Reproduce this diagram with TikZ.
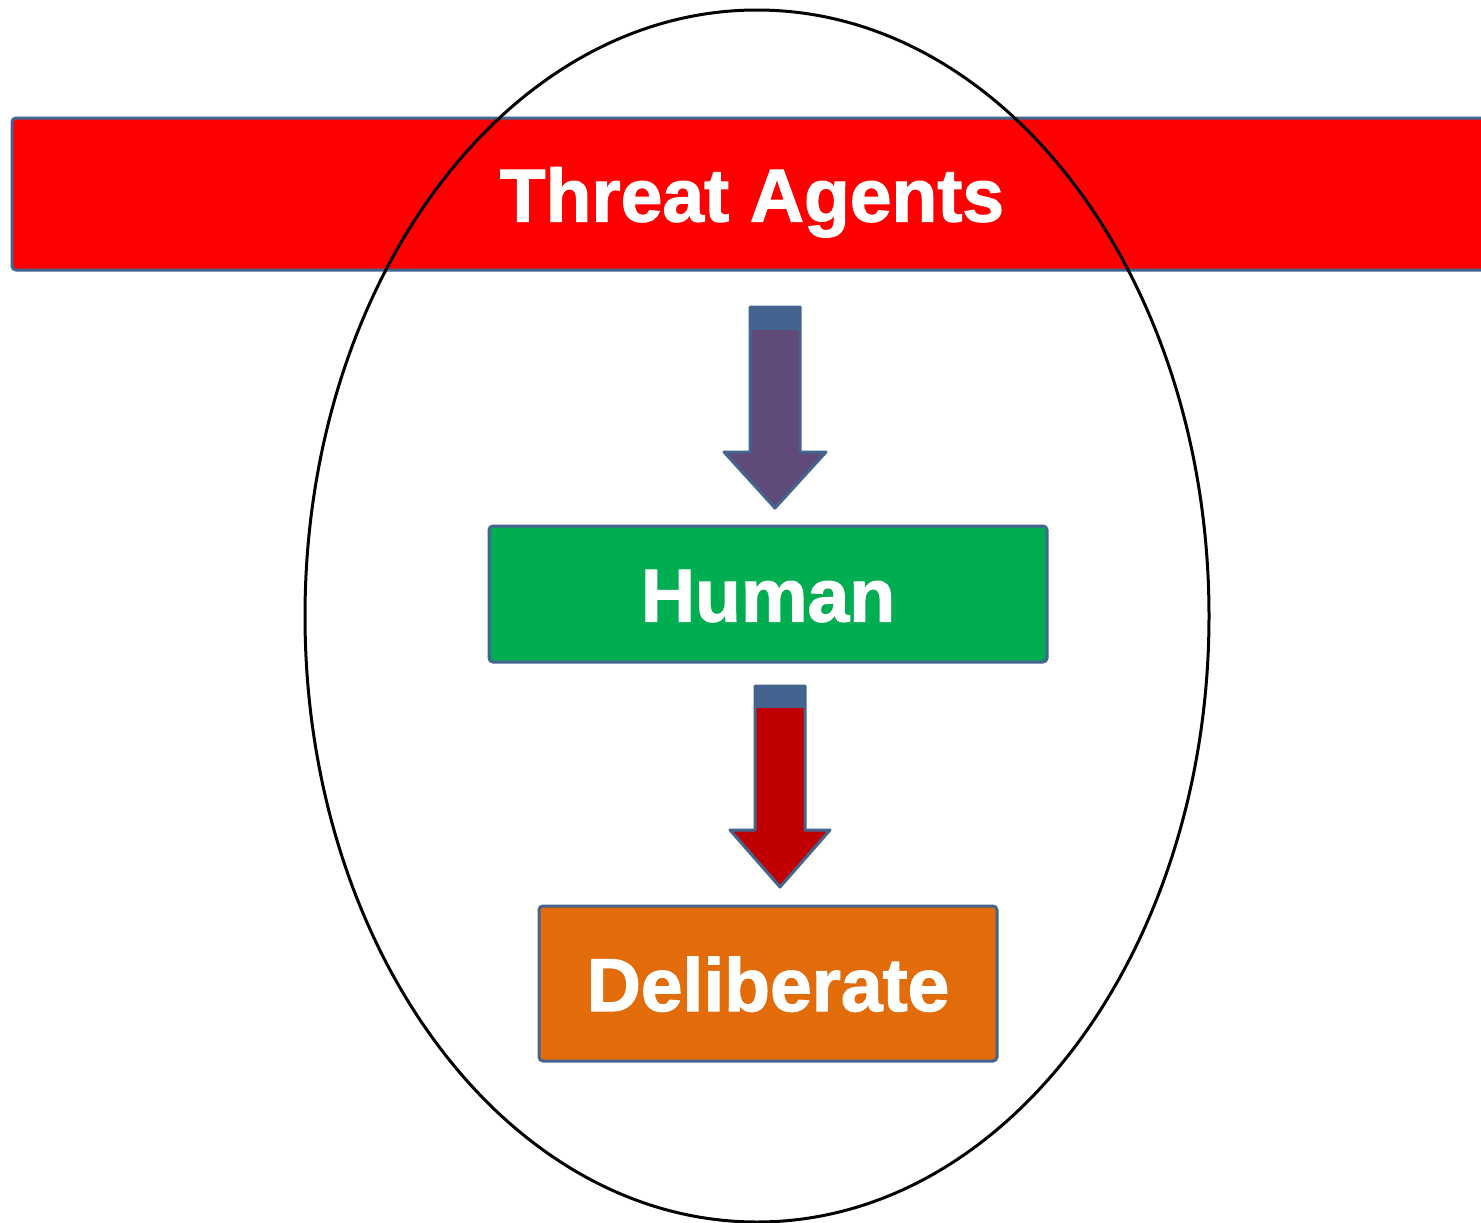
\documentclass[tikz,border=0pt]{standalone}
\usepackage{fontspec}
\setmainfont{Liberation Sans}
\newfontfamily\heavyfont{Liberation Sans Bold}[FakeBold=1.6]
\usetikzlibrary{calc}
\definecolor{edgeblue}{HTML}{43648F}
\definecolor{barred}{HTML}{FF0000}
\definecolor{humangreen}{HTML}{00AD50}
\definecolor{delorange}{HTML}{E36C0A}
\definecolor{arrowpurple}{HTML}{5F4A7A}
\definecolor{arrowred}{HTML}{C00000}
\tikzset{
  box/.style={draw=edgeblue, line width=3pt, rounded corners=4pt, inner sep=0pt,
    text=white, font=\heavyfont\fontsize{75}{80}\selectfont,
    text height=55pt, text depth=0pt},
  blockarrow/.style={draw=edgeblue, line width=3pt, line join=round}
}
\begin{document}
\begin{tikzpicture}[x=1pt, y=-1pt]
\useasboundingbox (0,0) rectangle (1481,1223);
\clip (0,0) rectangle (1481,1223);

% banner and boxes
\node[box, fill=barred, minimum width=1480pt, minimum height=152pt] (agents) at (752,194) {Threat Agents};
\node[box, fill=humangreen, minimum width=558pt, minimum height=136pt] (human) at (768,594) {Human};
\node[box, fill=delorange, minimum width=458pt, minimum height=155pt] (deliberate) at (768,983.5) {Deliberate};

% block arrow: banner -> human
\coordinate (a1top) at (775,307);
\coordinate (a1tip) at (775,508);
\filldraw[blockarrow, fill=arrowpurple]
  ($(a1top)+(-25,0)$) -- ($(a1top)+(25,0)$) -- (800,452) -- (826,452) -- (a1tip)
  -- (724,452) -- (750,452) -- cycle;
\fill[edgeblue] ($(a1top)+(-25,0)$) rectangle ($(a1top)+(25,23)$);

% block arrow: human -> deliberate
\coordinate (a2top) at (780,686);
\coordinate (a2tip) at (780,887);
\filldraw[blockarrow, fill=arrowred]
  ($(a2top)+(-25,0)$) -- ($(a2top)+(25,0)$) -- (805,830) -- (830,830) -- (a2tip)
  -- (730,830) -- (755,830) -- cycle;
\fill[edgeblue] ($(a2top)+(-25,0)$) rectangle ($(a2top)+(25,22)$);

% enclosing ellipse
\draw[black, line width=3pt] (757,616) ellipse [x radius=452, y radius=606];
\end{tikzpicture}
\end{document}
